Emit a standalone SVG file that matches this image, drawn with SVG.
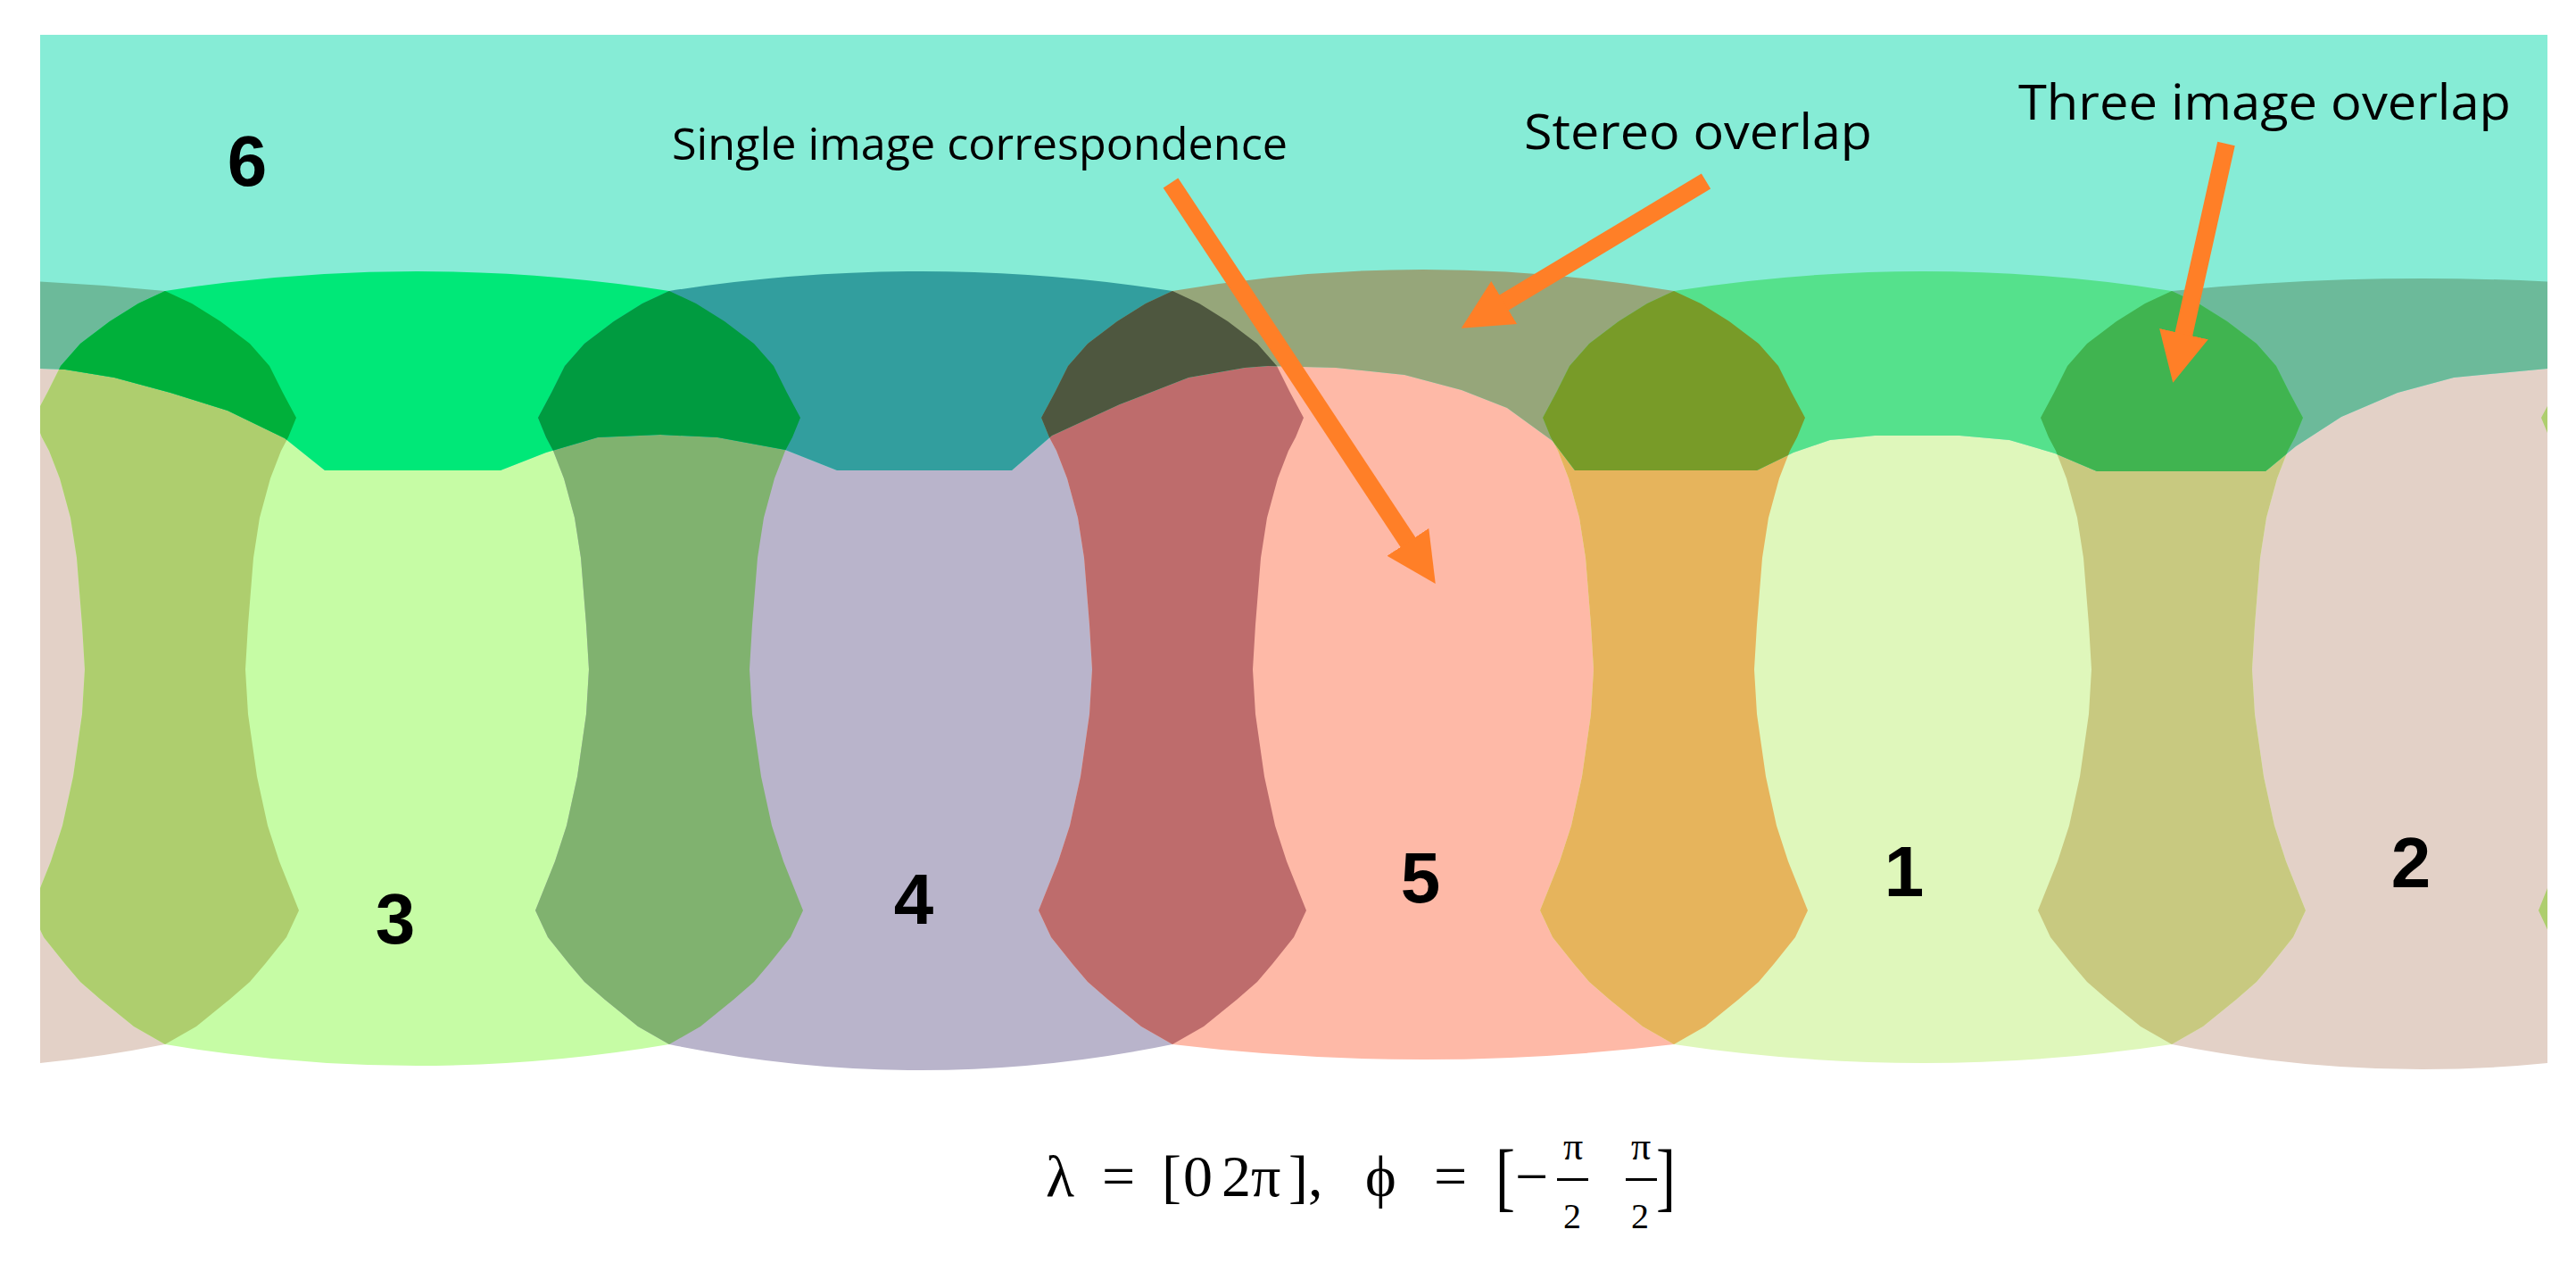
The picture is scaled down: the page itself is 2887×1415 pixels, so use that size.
<svg xmlns="http://www.w3.org/2000/svg" xmlns:xlink="http://www.w3.org/1999/xlink" width="2887" height="1415" viewBox="0 0 2887 1415">
<style>
.num{font-family:"Liberation Sans",Arial,sans-serif;font-weight:bold;font-size:80px;text-anchor:middle;fill:#000}
.lbl{font-family:"Open Sans","Liberation Sans",sans-serif;fill:#000}
.mth{font-family:"Liberation Serif","DejaVu Serif",serif;fill:#000}
.arrow{stroke:#FF7F27;stroke-width:20;fill:none;marker-end:url(#ah)}
</style>
<defs>
<path id="lens" d="M0,326 L30,340 62,360 95,385 117,410 132,440 147,468 138,490 130,505 118,536 106,580 99,625 93,700 90,750 93,800 103,870 115,925 128,965 150,1020 136,1050 112,1080 95,1100 72,1120 35,1150 0,1170 -35,1150 -72,1120 -95,1100 -112,1080 -136,1050 -150,1020 -128,965 -115,925 -103,870 -93,800 -90,750 -93,700 -99,625 -106,580 -118,536 -130,505 -138,490 -147,468 -132,440 -117,410 -95,385 -62,360 -30,340 Z"/>
<path id="img3" d="M185,326 Q467,282 750,326 L780,340 812,360 845,385 867,410 882,440 897,468 888,490 880,505 868,536 856,580 849,625 843,700 840,750 843,800 853,870 865,925 878,965 900,1020 886,1050 862,1080 845,1100 822,1120 785,1150 750,1170 Q467,1218 185,1170 L150,1150 113,1120 90,1100 73,1080 49,1050 35,1020 57,965 70,925 82,870 92,800 95,750 92,700 86,625 79,580 67,536 55,505 47,490 38,468 53,440 68,410 90,385 123,360 155,340 Z"/>
<path id="img4" d="M750,326 Q1032,282 1314,326 L1344,340 1376,360 1409,385 1431,410 1446,440 1461,468 1452,490 1444,505 1432,536 1420,580 1413,625 1407,700 1404,750 1407,800 1417,870 1429,925 1442,965 1464,1020 1450,1050 1426,1080 1409,1100 1386,1120 1349,1150 1314,1170 Q1032,1228 750,1170 L715,1150 678,1120 655,1100 638,1080 614,1050 600,1020 622,965 635,925 647,870 657,800 660,750 657,700 651,625 644,580 632,536 620,505 612,490 603,468 618,440 633,410 655,385 688,360 720,340 Z"/>
<path id="img5" d="M1314,326 Q1595,278 1876,326 L1906,340 1938,360 1971,385 1993,410 2008,440 2023,468 2014,490 2006,505 1994,536 1982,580 1975,625 1969,700 1966,750 1969,800 1979,870 1991,925 2004,965 2026,1020 2012,1050 1988,1080 1971,1100 1948,1120 1911,1150 1876,1170 Q1595,1204 1314,1170 L1279,1150 1242,1120 1219,1100 1202,1080 1178,1050 1164,1020 1186,965 1199,925 1211,870 1221,800 1224,750 1221,700 1215,625 1208,580 1196,536 1184,505 1176,490 1167,468 1182,440 1197,410 1219,385 1252,360 1284,340 Z"/>
<path id="img1" d="M1876,326 Q2155,282 2434,326 L2464,340 2496,360 2529,385 2551,410 2566,440 2581,468 2572,490 2564,505 2552,536 2540,580 2533,625 2527,700 2524,750 2527,800 2537,870 2549,925 2562,965 2584,1020 2570,1050 2546,1080 2529,1100 2506,1120 2469,1150 2434,1170 Q2155,1212 1876,1170 L1841,1150 1804,1120 1781,1100 1764,1080 1740,1050 1726,1020 1748,965 1761,925 1773,870 1783,800 1786,750 1783,700 1777,625 1770,580 1758,536 1746,505 1738,490 1729,468 1744,440 1759,410 1781,385 1814,360 1846,340 Z"/>
<path id="img2" d="M2434,326 Q2715,298 2995,326 L3025,340 3057,360 3090,385 3112,410 3127,440 3142,468 3133,490 3125,505 3113,536 3101,580 3094,625 3088,700 3085,750 3088,800 3098,870 3110,925 3123,965 3145,1020 3131,1050 3107,1080 3090,1100 3067,1120 3030,1150 2995,1170 Q2715,1226 2434,1170 L2399,1150 2362,1120 2339,1100 2322,1080 2298,1050 2284,1020 2306,965 2319,925 2331,870 2341,800 2344,750 2341,700 2335,625 2328,580 2316,536 2304,505 2296,490 2287,468 2302,440 2317,410 2339,385 2372,360 2404,340 Z"/>
<clipPath id="frame"><rect x="45" y="39" width="2810" height="1200"/></clipPath>
<clipPath id="six"><path d="M45,39 H2855 V413 L2750,423 2687,440 2624,467 2573,500 2539,528 2350,528 2303,508 2252,493 2196,488 2101,488 2051,493 2010,507 1969,527 1765,527 1740,494 1689,457 1638,437 1574,420 1497,412 1421,410 1395,412 1332,423 1255,453 1179,488 1134,527 938,527 880,504 804,490 740,487 670,490 612,507 561,527 364,527 319,491 255,460 191,440 128,423 73,414 45,413 Z"/></clipPath>
<marker id="ah" markerUnits="userSpaceOnUse" markerWidth="60" markerHeight="60" refX="2" refY="28" orient="auto"><path d="M0,0 L56,28 L0,56 Z" fill="#FF7F27"/></marker>
</defs>
<rect width="2887" height="1415" fill="#FFFFFF"/>
<g id="map" clip-path="url(#frame)">
  <g id="footprints">
    <use xlink:href="#img2" fill="#E3D1C7"/>
    <use xlink:href="#img2" transform="translate(-2810,0)" fill="#E3D1C7"/>
    <use xlink:href="#img3" fill="#C6FCA5"/>
    <use xlink:href="#img4" fill="#B9B4CB"/>
    <use xlink:href="#img5" fill="#FEB9A7"/>
    <use xlink:href="#img1" fill="#DFF7BB"/>
    <use xlink:href="#lens" x="185" fill="#AECE6E"/>
    <use xlink:href="#lens" x="2995" fill="#AECE6E"/>
    <use xlink:href="#lens" x="750" fill="#80B26F"/>
    <use xlink:href="#lens" x="1314" fill="#BE6C6C"/>
    <use xlink:href="#lens" x="1876" fill="#E6B45C"/>
    <use xlink:href="#lens" x="2434" fill="#C8C980"/>
  </g>
  <g id="image6" clip-path="url(#six)">
    <rect x="45" y="39" width="2810" height="600" fill="#86ECD6"/>
    <use xlink:href="#img2" fill="#6CBA9A"/>
    <use xlink:href="#img2" transform="translate(-2810,0)" fill="#6CBA9A"/>
    <use xlink:href="#img3" fill="#00E878"/>
    <use xlink:href="#img4" fill="#329E9E"/>
    <use xlink:href="#img5" fill="#96A67A"/>
    <use xlink:href="#img1" fill="#55E18C"/>
    <use xlink:href="#lens" x="185" fill="#00B03A"/>
    <use xlink:href="#lens" x="750" fill="#009B40"/>
    <use xlink:href="#lens" x="1314" fill="#4E573F"/>
    <use xlink:href="#lens" x="1876" fill="#789B28"/>
    <use xlink:href="#lens" x="2434" fill="#40B450"/>
  </g>
</g>
<g id="numbers">
  <text class="num" x="277" y="208">6</text>
  <text class="num" x="443" y="1057">3</text>
  <text class="num" x="1024" y="1035">4</text>
  <text class="num" x="1592" y="1011">5</text>
  <text class="num" x="2134" y="1004">1</text>
  <text class="num" x="2702" y="994">2</text>
</g>
<g id="labels">
  <text id="lbl-single" class="lbl" x="753" y="179" font-size="50" textLength="690" lengthAdjust="spacingAndGlyphs">Single image correspondence</text>
  <text id="lbl-stereo" class="lbl" x="1708" y="167" font-size="55" textLength="390" lengthAdjust="spacingAndGlyphs">Stereo overlap</text>
  <text id="lbl-three" class="lbl" x="2262" y="134" font-size="54" textLength="552" lengthAdjust="spacingAndGlyphs">Three image overlap</text>
</g>
<g id="connectors">
  <line id="arrow-single" class="arrow" x1="1312" y1="205" x2="1579" y2="609"/>
  <line id="arrow-stereo" class="arrow" x1="1912" y1="203" x2="1684" y2="340"/>
  <line id="arrow-three" class="arrow" x1="2495" y1="161" x2="2447" y2="376"/>
</g>
<g id="formula">
  <text class="mth" font-size="66" x="1172" y="1340">λ</text>
  <text class="mth" font-size="66" x="1235" y="1340">=</text>
  <text class="mth" font-size="66" x="1302" y="1340">[</text>
  <text class="mth" font-size="66" x="1326" y="1340">0</text>
  <text class="mth" font-size="66" x="1369" y="1340">2π</text>
  <text class="mth" font-size="66" x="1444" y="1340">],</text>
  <text class="mth" font-size="66" x="1530" y="1340">ϕ</text>
  <text class="mth" font-size="66" x="1607" y="1340">=</text>
  <text class="mth" font-size="66" transform="translate(1676,1347) scale(1,1.29)">[</text>
  <text class="mth" font-size="66" x="1698" y="1340">−</text>
  <text class="mth" font-size="44" x="1763" y="1299" text-anchor="middle">π</text>
  <rect x="1745" y="1320" width="35" height="3" fill="#000"/>
  <text class="mth" font-size="40" x="1762" y="1376" text-anchor="middle">2</text>
  <text class="mth" font-size="44" x="1839" y="1299" text-anchor="middle">π</text>
  <rect x="1822" y="1320" width="35" height="3" fill="#000"/>
  <text class="mth" font-size="40" x="1838" y="1376" text-anchor="middle">2</text>
  <text class="mth" font-size="66" transform="translate(1856,1347) scale(1,1.29)">]</text>
</g>
</svg>
